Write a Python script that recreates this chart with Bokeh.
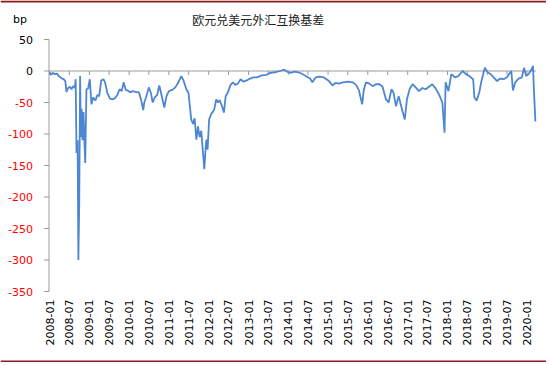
import calendar
from datetime import datetime
from math import pi

from bokeh.plotting import figure
from bokeh.models import ColumnDataSource, Range1d, BoxAnnotation
from bokeh.core.properties import value
from bokeh.embed import file_html
from bokeh.resources import INLINE

# ---------------- data ----------------
title_text = "欧元兑美元外汇互换基差"
unit_text = "bp"

dates = [
    "2008-01-02", "2008-01-15", "2008-02-01", "2008-02-20", "2008-03-10", "2008-03-25",
    "2008-04-10", "2008-04-25", "2008-05-10", "2008-05-25", "2008-06-05", "2008-06-20",
    "2008-07-05", "2008-07-20", "2008-08-05", "2008-08-20", "2008-08-28", "2008-09-05",
    "2008-09-15", "2008-09-22", "2008-09-30", "2008-10-08", "2008-10-15", "2008-10-22",
    "2008-10-30", "2008-11-08", "2008-11-18", "2008-11-24", "2008-12-05", "2008-12-20",
    "2009-01-05", "2009-01-20", "2009-02-05", "2009-02-25", "2009-03-15", "2009-04-01",
    "2009-04-20", "2009-05-10", "2009-05-25", "2009-06-15", "2009-07-10", "2009-08-01",
    "2009-08-25", "2009-09-15", "2009-10-05", "2009-10-25", "2009-11-12", "2009-12-01",
    "2009-12-20", "2010-01-10", "2010-02-01", "2010-03-01", "2010-04-01", "2010-04-20",
    "2010-05-10", "2010-05-20", "2010-06-05", "2010-07-01", "2010-07-20", "2010-08-05",
    "2010-08-25", "2010-09-15", "2010-10-05", "2010-10-25", "2010-11-20", "2010-12-10",
    "2011-01-01", "2011-02-01", "2011-03-01", "2011-04-01", "2011-04-25", "2011-05-15",
    "2011-06-10", "2011-06-30", "2011-07-25", "2011-08-10", "2011-08-25", "2011-09-10",
    "2011-09-25", "2011-10-10", "2011-10-25", "2011-11-10", "2011-11-22", "2011-12-05",
    "2011-12-12", "2011-12-22", "2012-01-05", "2012-01-25", "2012-02-20", "2012-03-10",
    "2012-03-25", "2012-04-10", "2012-05-01", "2012-05-20", "2012-06-05", "2012-06-25",
    "2012-07-20", "2012-08-10", "2012-09-01", "2012-09-25", "2012-10-20", "2012-11-15",
    "2012-12-15", "2013-01-15", "2013-02-15", "2013-03-20", "2013-05-01", "2013-06-15",
    "2013-07-20", "2013-09-01", "2013-10-15", "2013-11-25", "2013-12-20", "2014-01-20",
    "2014-03-01", "2014-04-01", "2014-05-01", "2014-06-10", "2014-07-20", "2014-08-10",
    "2014-09-10", "2014-10-15", "2014-11-20", "2015-01-10", "2015-02-10", "2015-03-10",
    "2015-04-10", "2015-05-15", "2015-07-01", "2015-08-15", "2015-09-15", "2015-10-10",
    "2015-11-10", "2015-11-25", "2015-12-15", "2016-01-15", "2016-02-15", "2016-03-15",
    "2016-04-15", "2016-05-15", "2016-06-15", "2016-07-10", "2016-08-05", "2016-08-25",
    "2016-09-15", "2016-10-10", "2016-11-10", "2016-12-05", "2016-12-25", "2017-01-20",
    "2017-02-15", "2017-03-15", "2017-04-15", "2017-05-15", "2017-06-15", "2017-07-15",
    "2017-08-15", "2017-09-15", "2017-10-15", "2017-11-15", "2017-12-05", "2017-12-15",
    "2018-01-10", "2018-02-05", "2018-03-10", "2018-04-10", "2018-05-20", "2018-06-20",
    "2018-07-20", "2018-08-25", "2018-09-05", "2018-09-25", "2018-10-20", "2018-11-10",
    "2018-12-10", "2019-01-05", "2019-02-01", "2019-03-01", "2019-04-01", "2019-05-01",
    "2019-06-01", "2019-07-01", "2019-08-10", "2019-08-25", "2019-09-15", "2019-10-15",
    "2019-11-15", "2019-12-05", "2019-12-25", "2020-01-15", "2020-02-10", "2020-02-25",
    "2020-03-05", "2020-03-18",
]

basis_bp = [
    -2, -6, -3, -5, -4, -8,
    -10, -12, -13, -16, -33, -27,
    -25, -29, -24, -27, -13, -130,
    -110, -300, -209, -8, -105, -60,
    -110, -65, -120, -146, -29, -28,
    -13, -53, -42, -47, -38, -40,
    -15, -13, -18, -35, -44, -45,
    -43, -38, -29, -32, -18, -30,
    -31, -34, -32, -33, -34, -45,
    -62, -50, -42, -26, -35, -50,
    -42, -38, -23, -38, -58, -40,
    -32, -30, -26, -17, -8, -15,
    -29, -35, -77, -84, -75, -109,
    -88, -105, -95, -130, -156, -120,
    -109, -125, -77, -68, -62, -45,
    -50, -46, -55, -66, -40, -34,
    -22, -18, -22, -20, -13, -17,
    -15, -12, -10, -10, -7, -6,
    -3, -2, 0, 2, -1, -3,
    -1, -2, -4, -8, -12, -18,
    -10, -9, -10, -16, -23, -19,
    -20, -18, -17, -18, -22, -30,
    -53, -30, -18, -20, -24, -21,
    -21, -25, -45, -50, -29, -35,
    -56, -40, -61, -77, -45, -28,
    -21, -26, -32, -27, -29, -25,
    -21, -28, -37, -50, -98, -18,
    -32, -5, -10, -8, 0, -5,
    -8, -13, -42, -47, -34, -15,
    5, -2, -5, -10, -16, -12,
    -13, -10, 0, -31, -18, -12,
    -10, 5, -8, -5, 2, 8,
    -32, -80,
]

x_tick_labels = [
    "2008-01", "2008-07", "2009-01", "2009-07", "2010-01", "2010-07", "2011-01",
    "2011-07", "2012-01", "2012-07", "2013-01", "2013-07", "2014-01", "2014-07",
    "2015-01", "2015-07", "2016-01", "2016-07", "2017-01", "2017-07", "2018-01",
    "2018-07", "2019-01", "2019-07", "2020-01",
]
y_ticks = [50, 0, -50, -100, -150, -200, -250, -300, -350]
y_axis_min, y_axis_max = -350, 50
x_axis_end_date = "2020-03-22"
title_anchor_date = "2013-04-01"


def to_ms(s, fmt="%Y-%m-%d"):
    d = datetime.strptime(s, fmt)
    return calendar.timegm(d.timetuple()) * 1000.0


x_ms = [to_ms(d) for d in dates]
tick_ms = [to_ms(t, "%Y-%m") for t in x_tick_labels]

# ---------------- layout (page pixels) ----------------
W, H = 546, 362                 # canvas size
OX, OY = 0.5, 1.0               # where the canvas sits on the page
FIRST_TICK_PX, LAST_TICK_PX = 49.5, 527.0
AXIS_TOP_PX, AXIS_BOTTOM_PX = 40.0, 292.0

ms_per_px = (tick_ms[-1] - tick_ms[0]) / (LAST_TICK_PX - FIRST_TICK_PX)
bp_per_px = (y_axis_max - y_axis_min) / (AXIS_BOTTOM_PX - AXIS_TOP_PX)

x0 = tick_ms[0] - (FIRST_TICK_PX - OX) * ms_per_px
x1 = x0 + W * ms_per_px
y1 = y_axis_max + (AXIS_TOP_PX - OY) * bp_per_px
y0 = y1 - H * bp_per_px

x_axis_pos = tick_ms[0] - 0.5 * ms_per_px
x_axis_end = to_ms(x_axis_end_date)

AXIS_GRAY = "#9a9a9a"
LINE_BLUE = "#4d86d2"
DARK_RED = "#8b1a1a"
FONT = "DejaVu Sans"

p = figure(width=W, height=H, x_range=Range1d(x0, x1), y_range=Range1d(y0, y1),
           output_backend="svg", toolbar_location=None,
           min_border=0, min_border_left=0, min_border_right=0,
           min_border_top=0, min_border_bottom=0)
p.axis.visible = False
p.grid.visible = False
p.outline_line_color = None
p.background_fill_color = "white"
p.border_fill_color = "white"

# ---- value axis ----
p.segment(x0=x_axis_pos, x1=x_axis_pos, y0=y_axis_min, y1=y_axis_max,
          line_color=AXIS_GRAY, line_width=1)
ysrc = ColumnDataSource(dict(
    y=y_ticks,
    label=[str(v) for v in y_ticks],
    color=["black" if v >= 0 else "#ff0000" for v in y_ticks],
))
p.segment(x0=x_axis_pos - 5 * ms_per_px, x1=x_axis_pos, y0="y", y1="y",
          source=ysrc, line_color=AXIS_GRAY, line_width=1)
p.text(x=x_axis_pos, y="y", text="label", source=ysrc, x_offset=-16,
       text_align="right", text_baseline="middle", text_color="color",
       text_font=value(FONT), text_font_size="11px")

# ---- category axis (crosses at 0) ----
p.segment(x0=x_axis_pos, x1=x_axis_end, y0=0, y1=0,
          line_color=AXIS_GRAY, line_width=1)
xsrc = ColumnDataSource(dict(x=tick_ms, label=x_tick_labels))
p.segment(x0="x", x1="x", y0=0, y1=-4 * bp_per_px, source=xsrc,
          line_color=AXIS_GRAY, line_width=1)
p.text(x="x", y=y_axis_min, text="label", source=xsrc, y_offset=8,
       angle=pi / 2, text_align="right", text_baseline="middle",
       text_color="black", text_font=value(FONT), text_font_size="11px")

# ---- series ----
src = ColumnDataSource(dict(x=x_ms, y=basis_bp))
p.line("x", "y", source=src, line_color=LINE_BLUE, line_width=1.8)

# ---- title and unit ----
p.text(x=[to_ms(title_anchor_date)], y=[y_axis_max], text=[title_text], y_offset=-20,
       text_align="center", text_baseline="middle", text_color="#222222",
       text_font=value("Noto Sans CJK SC"), text_font_size="12px")
p.text(x=[x_axis_pos], y=[y_axis_max], text=[unit_text], x_offset=-36, y_offset=-20,
       text_align="left", text_baseline="middle", text_color="black",
       text_font=value(FONT), text_font_size="11px")

# ---- dark red rules at top and bottom ----
p.add_layout(BoxAnnotation(left=0, right=W, bottom=H - 2, top=H,
                           left_units="screen", right_units="screen",
                           bottom_units="screen", top_units="screen",
                           fill_color=DARK_RED, fill_alpha=1, line_color=None))
p.add_layout(BoxAnnotation(left=0, right=W, bottom=0, top=2,
                           left_units="screen", right_units="screen",
                           bottom_units="screen", top_units="screen",
                           fill_color=DARK_RED, fill_alpha=1, line_color=None))

open("out.html", "w").write(file_html(p, INLINE))
